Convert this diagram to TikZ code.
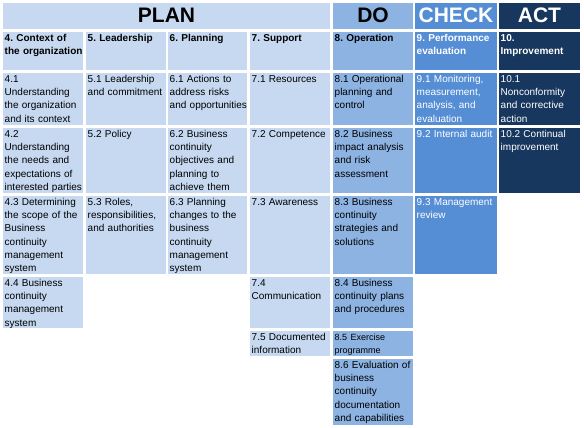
\documentclass[tikz,border=0pt]{standalone}
\usepackage{fontspec}
\setmainfont{Liberation Sans}
\frenchspacing
\definecolor{planc}{HTML}{C6D9F1}
\definecolor{doc}{HTML}{8DB3E2}
\definecolor{checkc}{HTML}{558ED5}
\definecolor{actc}{HTML}{17375E}
\newcommand\mycell[7]{%
  \fill[#6] (#2,#3) rectangle (#4,#5);
  \node[celltext,#6 text] (#1) at (#2,#3) {\rule{0pt}{9pt}#7};
}
\begin{document}
\begin{tikzpicture}[x=1pt,y=-1pt,
  celltext/.style={anchor=north west, inner xsep=1.5pt, inner ysep=0pt,
    align=left, text width=84pt, font=\fontsize{10}{13.3}\selectfont\frenchspacing},
  hdrtext/.style={inner sep=0pt, font=\fontsize{21}{24}\selectfont\bfseries},
  planc/.style={fill=planc}, doc/.style={fill=doc},
  checkc/.style={fill=checkc}, actc/.style={fill=actc},
  planc text/.style={text=black}, doc text/.style={text=black},
  checkc text/.style={text=white}, actc text/.style={text=white}]
\useasboundingbox[fill=white] (0,0) rectangle (584,428);
% phase headers
\fill[planc] (3,3) rectangle (330,29);
\node[hdrtext] (plan) at (166.5,15) {PLAN};
\fill[doc] (333,3) rectangle (413,29);
\node[hdrtext] (do) at (373,15) {DO};
\fill[checkc] (415,3) rectangle (497,29);
\node[hdrtext,text=white] (check) at (456,15) {CHECK};
\fill[actc] (499,3) rectangle (580,29);
\node[hdrtext,text=white] (act) at (539.5,15) {ACT};
% clause headings
\mycell{h4}{3}{32}{83}{70}{planc}{\textbf{4. Context of}\\\textbf{the organization}}
\mycell{h5}{86}{32}{166}{70}{planc}{\textbf{5. Leadership}}
\mycell{h6}{168}{32}{247}{70}{planc}{\textbf{6. Planning}}
\mycell{h7}{250}{32}{330}{70}{planc}{\textbf{7. Support}}
\mycell{h8}{333}{32}{413}{70}{doc}{\textbf{8. Operation}}
\mycell{h9}{415}{32}{497}{70}{checkc}{\textbf{9. Performance}\\\textbf{evaluation}}
\mycell{h10}{499}{32}{580}{70}{actc}{\textbf{10.}\\\textbf{Improvement}}
% row 2
\mycell{c41}{3}{73}{83}{125}{planc}{4.1\\Understanding\\the organization\\and its context}
\mycell{c51}{86}{73}{166}{125}{planc}{5.1 Leadership\\and commitment}
\mycell{c61}{168}{73}{247}{125}{planc}{6.1 Actions to\\address risks\\and opportunities}
\mycell{c71}{250}{73}{330}{125}{planc}{7.1 Resources}
\mycell{c81}{333}{73}{413}{125}{doc}{8.1 Operational\\planning and\\control}
\mycell{c91}{415}{73}{497}{125}{checkc}{9.1 Monitoring,\\measurement,\\analysis, and\\evaluation}
\mycell{c101}{499}{73}{580}{125}{actc}{10.1\\Nonconformity\\and corrective\\action}
% row 3
\mycell{c42}{3}{128}{83}{193}{planc}{4.2\\Understanding\\the needs and\\expectations of\\interested parties}
\mycell{c52}{86}{128}{166}{193}{planc}{5.2 Policy}
\mycell{c62}{168}{128}{247}{193}{planc}{6.2 Business\\continuity\\objectives and\\planning to\\achieve them}
\mycell{c72}{250}{128}{330}{193}{planc}{7.2 Competence}
\mycell{c82}{333}{128}{413}{193}{doc}{8.2 Business\\impact analysis\\and risk\\assessment}
\mycell{c92}{415}{128}{497}{193}{checkc}{9.2 Internal audit}
\mycell{c102}{499}{128}{580}{193}{actc}{10.2 Continual\\improvement}
% row 4
\mycell{c43}{3}{196}{83}{274}{planc}{4.3 Determining\\the scope of the\\Business\\continuity\\management\\system}
\mycell{c53}{86}{196}{166}{274}{planc}{5.3 Roles,\\responsibilities,\\and authorities}
\mycell{c63}{168}{196}{247}{274}{planc}{6.3 Planning\\changes to the\\business\\continuity\\management\\system}
\mycell{c73}{250}{196}{330}{274}{planc}{7.3 Awareness}
\mycell{c83}{333}{196}{413}{274}{doc}{8.3 Business\\continuity\\strategies and\\solutions}
\mycell{c93}{415}{196}{497}{274}{checkc}{9.3 Management\\review}
% row 5
\mycell{c44}{3}{277}{83}{328}{planc}{4.4 Business\\continuity\\management\\system}
\mycell{c74}{250}{277}{330}{328}{planc}{7.4\\Communication}
\mycell{c84}{333}{277}{413}{328}{doc}{8.4 Business\\continuity plans\\and procedures}
% row 6
\mycell{c75}{250}{331}{330}{356}{planc}{7.5 Documented\\information}
\mycell{c85}{333}{331}{413}{356}{doc}{\fontsize{9}{12.2}\selectfont 8.5 Exercise\\programme}
% row 7
\mycell{c86}{333}{359}{413}{425}{doc}{8.6 Evaluation of\\business\\continuity\\documentation\\and capabilities}
\end{tikzpicture}
\end{document}
